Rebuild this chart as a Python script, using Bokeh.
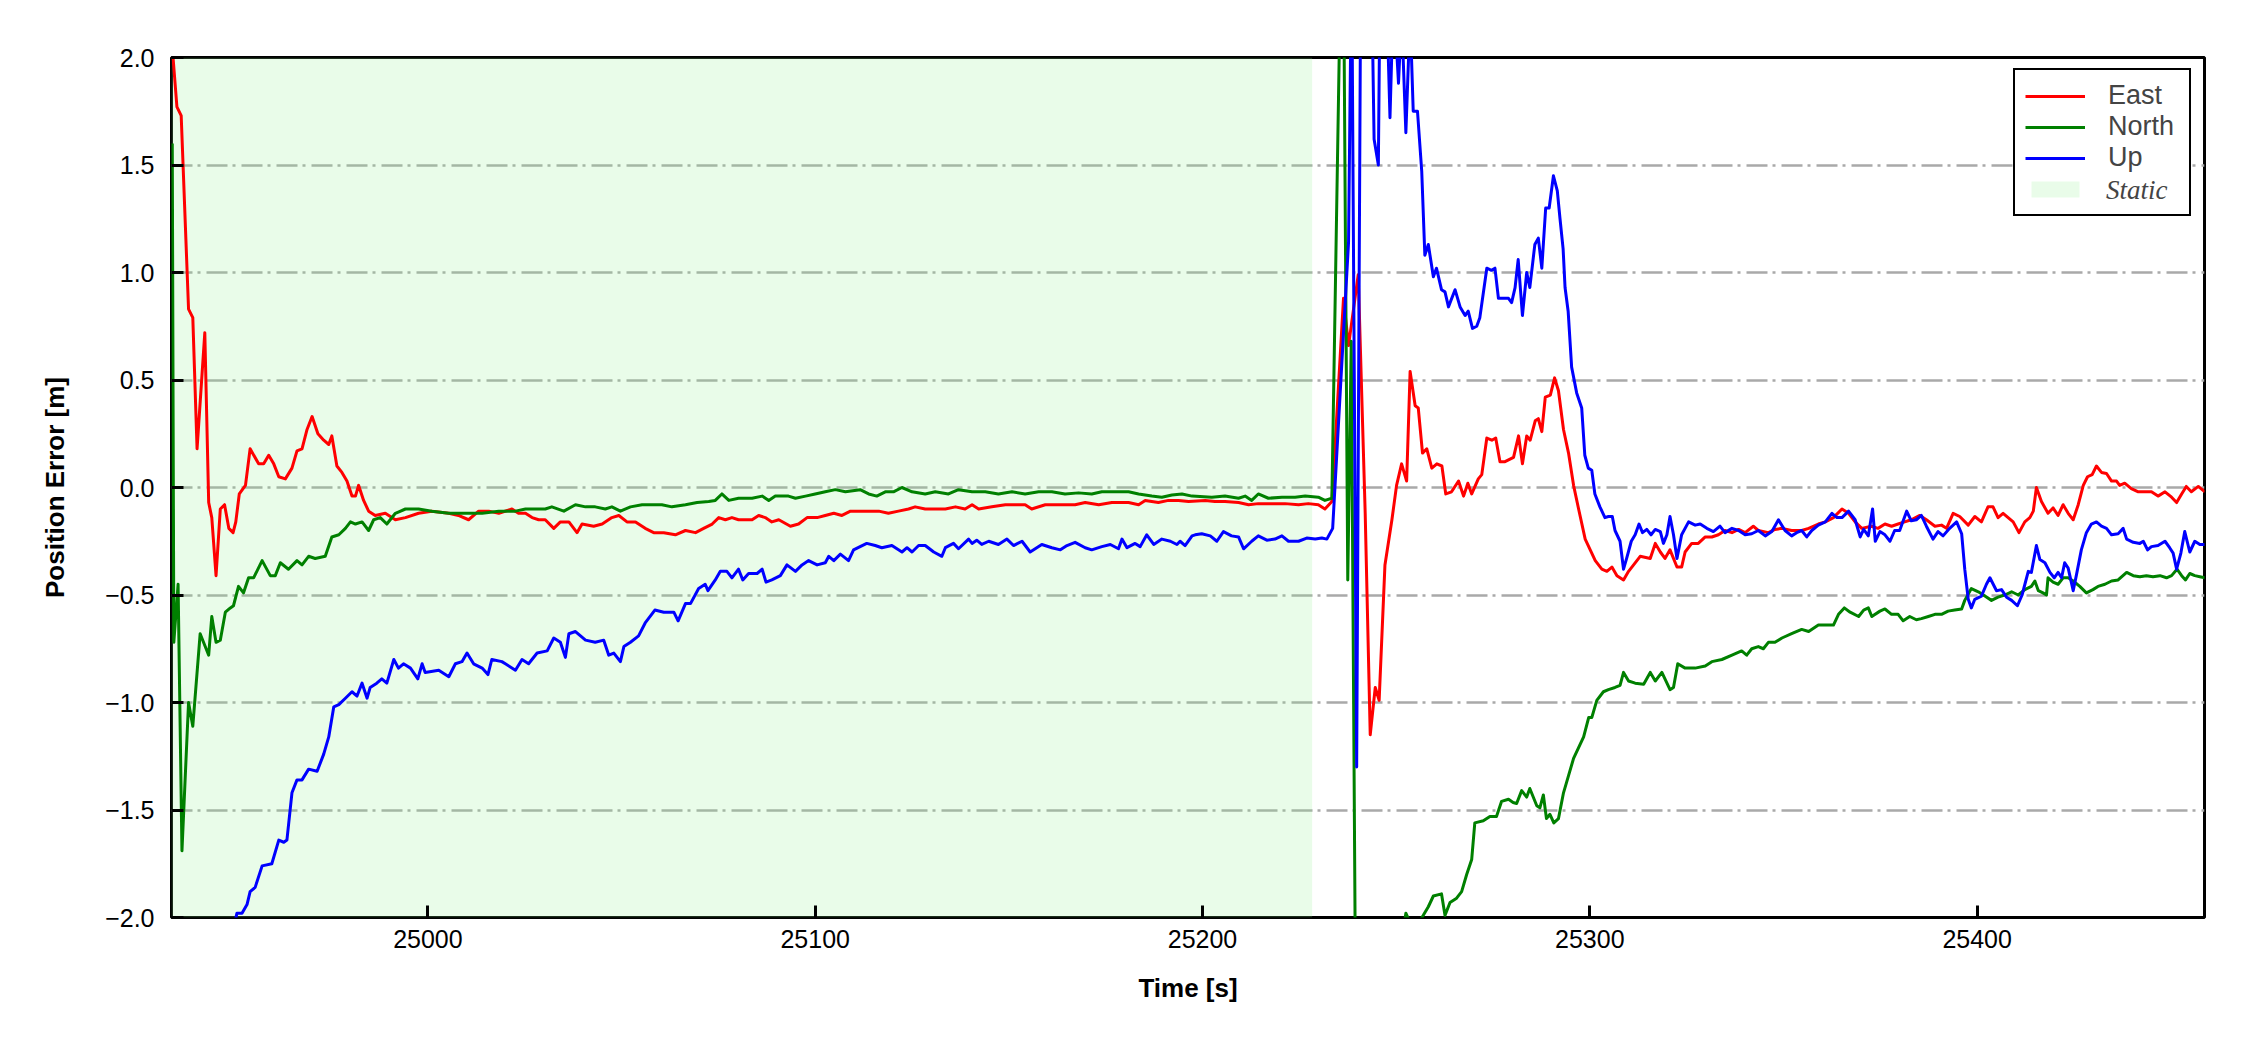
from bokeh.plotting import figure
from bokeh.models import (Range1d, FixedTicker, CustomJSTickFormatter, Legend,
                          LegendItem, BoxAnnotation)
from bokeh.embed import file_html
from bokeh.resources import INLINE

# ---------------- data (time [s], error [m]) ----------------
east_points = [
    (24934.2, 2.00), (24935.2, 1.77), (24936.3, 1.73), (24938.2, 0.83), (24939.3, 0.79),
    (24940.4, 0.18), (24942.4, 0.72), (24943.4, -0.07), (24944.2, -0.14), (24945.3, -0.41),
    (24946.4, -0.10), (24947.5, -0.08), (24948.6, -0.19), (24949.7, -0.21), (24950.4, -0.16),
    (24951.3, -0.03), (24952.9, 0.01), (24954.1, 0.18), (24956.3, 0.11), (24957.6, 0.11),
    (24958.9, 0.15), (24960.2, 0.11), (24961.5, 0.05), (24963.2, 0.04), (24964.9, 0.09),
    (24966.2, 0.17), (24967.5, 0.18), (24968.8, 0.27), (24970.1, 0.33), (24971.6, 0.25),
    (24973.1, 0.22), (24974.4, 0.20), (24975.2, 0.24), (24976.5, 0.10), (24977.8, 0.07),
    (24979.1, 0.03), (24980.4, -0.04), (24981.3, -0.04), (24982.1, 0.01), (24983.4, -0.06),
    (24984.7, -0.11), (24986.4, -0.13), (24989.0, -0.12), (24991.6, -0.15), (24994.2, -0.14),
    (24997.6, -0.12), (25001.0, -0.11), (25005.4, -0.12), (25007.9, -0.13), (25010.5, -0.15),
    (25013.1, -0.11), (25015.7, -0.11), (25018.3, -0.12), (25021.7, -0.10), (25023.4, -0.12),
    (25025.2, -0.12), (25026.9, -0.14), (25028.6, -0.15), (25030.3, -0.15), (25032.5, -0.19),
    (25034.2, -0.16), (25036.4, -0.16), (25038.5, -0.21), (25039.8, -0.17), (25042.8, -0.18),
    (25045.0, -0.17), (25047.5, -0.14), (25049.3, -0.13), (25051.4, -0.16), (25053.6, -0.16),
    (25056.1, -0.19), (25058.3, -0.21), (25060.9, -0.21), (25063.9, -0.22), (25066.5, -0.20),
    (25069.1, -0.21), (25071.2, -0.19), (25073.4, -0.17), (25075.1, -0.14), (25076.8, -0.15),
    (25078.5, -0.14), (25080.2, -0.15), (25083.7, -0.15), (25085.4, -0.13), (25087.1, -0.14),
    (25088.8, -0.16), (25090.6, -0.15), (25093.6, -0.18), (25095.7, -0.17), (25097.9, -0.14),
    (25100.5, -0.14), (25102.6, -0.13), (25104.8, -0.12), (25106.9, -0.13), (25109.1, -0.11),
    (25112.9, -0.11), (25116.4, -0.11), (25118.9, -0.12), (25121.5, -0.11), (25124.1, -0.10),
    (25125.8, -0.09), (25128.4, -0.10), (25131.0, -0.10), (25133.6, -0.10), (25136.2, -0.09),
    (25138.7, -0.10), (25140.5, -0.08), (25142.2, -0.10), (25145.6, -0.09), (25149.1, -0.08),
    (25150.8, -0.08), (25154.2, -0.08), (25155.9, -0.10), (25159.4, -0.08), (25163.7, -0.08),
    (25167.1, -0.08), (25169.7, -0.07), (25173.2, -0.08), (25176.6, -0.07), (25180.9, -0.07),
    (25183.5, -0.08), (25185.2, -0.06), (25188.6, -0.07), (25191.2, -0.06), (25193.8, -0.06),
    (25196.4, -0.065), (25200.7, -0.06), (25203.2, -0.065), (25205.8, -0.065), (25209.3, -0.07),
    (25211.9, -0.08), (25214.4, -0.075), (25217.9, -0.075), (25221.3, -0.075), (25224.8, -0.08),
    (25227.3, -0.075), (25229.9, -0.08), (25231.6, -0.10), (25233.4, -0.065), (25236.4, 0.88),
    (25237.7, 0.66), (25240.2, 0.99), (25242.0, -0.12), (25243.3, -1.15), (25244.6, -0.93),
    (25245.6, -0.99), (25247.1, -0.36), (25248.9, -0.15), (25250.1, 0.01), (25251.4, 0.11),
    (25252.7, 0.03), (25253.6, 0.54), (25254.9, 0.38), (25255.7, 0.37), (25256.8, 0.16),
    (25257.9, 0.18), (25259.2, 0.09), (25260.5, 0.11), (25261.8, 0.10), (25262.8, -0.03),
    (25264.3, -0.02), (25266.1, 0.03), (25267.4, -0.04), (25268.5, 0.02), (25269.5, -0.03),
    (25271.2, 0.04), (25272.1, 0.06), (25273.4, 0.23), (25274.7, 0.22), (25275.7, 0.23),
    (25276.8, 0.12), (25278.1, 0.12), (25280.3, 0.14), (25281.6, 0.24), (25282.6, 0.11),
    (25283.7, 0.24), (25284.6, 0.22), (25285.9, 0.31), (25286.7, 0.32), (25287.6, 0.26),
    (25288.5, 0.42), (25289.8, 0.43), (25290.9, 0.51), (25291.9, 0.45), (25293.2, 0.27),
    (25294.5, 0.16), (25295.8, 0.01), (25297.1, -0.10), (25298.8, -0.24), (25300.1, -0.29),
    (25301.4, -0.34), (25303.1, -0.38), (25304.4, -0.39), (25305.7, -0.37), (25307.0, -0.41),
    (25308.7, -0.43), (25310.0, -0.39), (25311.3, -0.36), (25313.0, -0.32), (25315.6, -0.33),
    (25316.9, -0.26), (25318.2, -0.30), (25319.4, -0.33), (25320.7, -0.29), (25322.5, -0.37),
    (25323.7, -0.37), (25324.6, -0.30), (25326.3, -0.26), (25328.0, -0.26), (25329.8, -0.23),
    (25331.5, -0.23), (25333.2, -0.22), (25334.9, -0.20), (25336.7, -0.21), (25338.4, -0.195),
    (25340.1, -0.21), (25342.2, -0.18), (25343.5, -0.20), (25346.1, -0.21), (25347.8, -0.195),
    (25349.6, -0.19), (25352.1, -0.20), (25354.7, -0.20), (25356.5, -0.19), (25359.0, -0.17),
    (25360.8, -0.16), (25362.9, -0.14), (25365.1, -0.10), (25366.8, -0.12), (25368.5, -0.16),
    (25370.2, -0.19), (25372.7, -0.18), (25374.4, -0.19), (25376.2, -0.17), (25377.9, -0.18),
    (25379.6, -0.17), (25381.3, -0.16), (25383.0, -0.15), (25385.2, -0.13), (25386.9, -0.15),
    (25389.1, -0.18), (25390.8, -0.175), (25392.1, -0.19), (25393.8, -0.12), (25395.5, -0.135),
    (25397.7, -0.175), (25399.4, -0.135), (25401.1, -0.16), (25402.8, -0.09), (25404.1, -0.09),
    (25405.4, -0.14), (25406.7, -0.12), (25408.0, -0.14), (25409.3, -0.16), (25410.8, -0.21),
    (25412.3, -0.16), (25413.6, -0.14), (25414.5, -0.11), (25415.3, 0.00), (25416.6, -0.065),
    (25418.3, -0.12), (25419.6, -0.095), (25420.9, -0.13), (25422.2, -0.08), (25423.5, -0.12),
    (25424.8, -0.15), (25426.1, -0.08), (25427.4, 0.01), (25428.5, 0.05), (25429.7, 0.06),
    (25430.8, 0.10), (25432.1, 0.07), (25433.4, 0.065), (25434.7, 0.03), (25436.0, 0.03),
    (25436.8, 0.01), (25438.1, 0.02), (25439.8, -0.005), (25441.6, -0.02), (25443.3, -0.02),
    (25445.0, -0.02), (25446.7, -0.04), (25448.5, -0.02), (25450.2, -0.045), (25451.5, -0.07),
    (25452.8, -0.03), (25454.0, 0.005), (25455.3, -0.02), (25457.1, 0.005), (25458.8, -0.02),
]

north_points = [
    (24934.0, 1.60), (24934.4, -0.72), (24935.5, -0.45), (24936.5, -1.69), (24938.2, -1.00),
    (24939.3, -1.11), (24941.2, -0.68), (24943.4, -0.78), (24944.2, -0.60), (24945.3, -0.72),
    (24946.4, -0.71), (24947.7, -0.58), (24949.0, -0.56), (24949.8, -0.55), (24951.1, -0.46),
    (24952.4, -0.49), (24953.7, -0.42), (24955.0, -0.42), (24957.2, -0.34), (24959.3, -0.41),
    (24960.6, -0.41), (24961.9, -0.35), (24964.0, -0.38), (24966.2, -0.34), (24967.5, -0.36),
    (24969.2, -0.32), (24970.9, -0.33), (24973.5, -0.32), (24975.2, -0.23), (24977.0, -0.22),
    (24978.7, -0.19), (24980.0, -0.16), (24981.3, -0.17), (24983.0, -0.16), (24984.7, -0.20),
    (24986.0, -0.15), (24987.7, -0.14), (24989.4, -0.17), (24991.6, -0.12), (24994.2, -0.10),
    (24997.6, -0.10), (25001.0, -0.11), (25005.4, -0.12), (25009.7, -0.12), (25014.0, -0.12),
    (25018.3, -0.11), (25022.6, -0.11), (25025.2, -0.10), (25028.6, -0.10), (25030.3, -0.10),
    (25032.0, -0.09), (25035.1, -0.11), (25038.1, -0.08), (25040.7, -0.09), (25043.2, -0.09),
    (25045.8, -0.10), (25047.5, -0.09), (25049.7, -0.11), (25052.3, -0.09), (25055.3, -0.08),
    (25058.3, -0.08), (25060.4, -0.08), (25063.0, -0.09), (25066.5, -0.08), (25069.5, -0.07),
    (25072.5, -0.065), (25074.2, -0.06), (25075.9, -0.03), (25077.7, -0.06), (25080.2, -0.05),
    (25083.7, -0.05), (25086.3, -0.04), (25088.0, -0.06), (25089.7, -0.04), (25093.1, -0.04),
    (25094.9, -0.05), (25097.5, -0.04), (25100.0, -0.03), (25102.6, -0.02), (25105.2, -0.01),
    (25107.8, -0.02), (25111.6, -0.01), (25113.8, -0.03), (25115.9, -0.04), (25118.1, -0.02),
    (25120.2, -0.02), (25122.4, 0.00), (25125.0, -0.02), (25128.4, -0.03), (25131.0, -0.02),
    (25134.4, -0.03), (25137.0, -0.01), (25140.5, -0.02), (25143.9, -0.02), (25147.3, -0.03),
    (25150.8, -0.02), (25154.2, -0.03), (25157.7, -0.02), (25161.1, -0.02), (25164.5, -0.03),
    (25168.0, -0.025), (25171.4, -0.03), (25174.0, -0.02), (25177.5, -0.02), (25180.9, -0.02),
    (25183.5, -0.03), (25186.9, -0.04), (25189.5, -0.045), (25192.1, -0.035), (25194.7, -0.03),
    (25197.3, -0.04), (25202.4, -0.045), (25205.8, -0.04), (25209.3, -0.05), (25211.0, -0.04),
    (25212.7, -0.06), (25214.4, -0.03), (25217.0, -0.05), (25220.5, -0.045), (25223.9, -0.045),
    (25226.5, -0.04), (25229.9, -0.045), (25231.6, -0.06), (25233.4, -0.05), (25236.2, 3.00),
    (25237.5, -0.43), (25238.4, 0.68), (25239.6, -2.60), (25245.0, -3.20), (25251.5, -2.10),
    (25252.5, -1.98), (25254.5, -2.06), (25257.0, -1.99), (25258.3, -1.95), (25259.6, -1.90),
    (25261.7, -1.89), (25262.6, -1.99), (25263.9, -1.93), (25265.6, -1.91), (25266.9, -1.88),
    (25268.2, -1.80), (25269.5, -1.73), (25270.3, -1.56), (25272.5, -1.55), (25274.2, -1.53),
    (25275.9, -1.53), (25277.2, -1.46), (25279.0, -1.45), (25280.2, -1.465), (25281.1, -1.47),
    (25282.4, -1.41), (25283.7, -1.44), (25284.5, -1.40), (25286.3, -1.48), (25287.1, -1.49),
    (25288.0, -1.43), (25288.8, -1.54), (25289.7, -1.52), (25290.7, -1.56), (25291.9, -1.54),
    (25293.2, -1.42), (25294.5, -1.34), (25295.8, -1.26), (25297.1, -1.21), (25298.4, -1.16),
    (25299.7, -1.07), (25300.5, -1.07), (25301.8, -0.99), (25303.5, -0.95), (25304.8, -0.94),
    (25306.5, -0.93), (25307.8, -0.92), (25308.7, -0.86), (25310.0, -0.90), (25311.7, -0.91),
    (25313.9, -0.915), (25315.6, -0.86), (25316.9, -0.90), (25318.6, -0.86), (25320.7, -0.94),
    (25321.6, -0.93), (25322.7, -0.82), (25324.6, -0.84), (25327.2, -0.84), (25329.8, -0.83),
    (25331.5, -0.81), (25334.1, -0.80), (25336.7, -0.78), (25339.2, -0.76), (25340.5, -0.78),
    (25341.8, -0.75), (25343.5, -0.74), (25344.8, -0.75), (25346.1, -0.72), (25347.8, -0.72),
    (25349.6, -0.70), (25352.1, -0.68), (25354.7, -0.66), (25356.5, -0.67), (25359.0, -0.64),
    (25361.6, -0.64), (25362.9, -0.64), (25364.2, -0.59), (25365.7, -0.56), (25367.2, -0.58),
    (25369.4, -0.60), (25370.7, -0.57), (25371.9, -0.56), (25372.8, -0.60), (25374.9, -0.575),
    (25376.2, -0.565), (25377.9, -0.59), (25379.6, -0.59), (25380.9, -0.62), (25382.6, -0.60),
    (25384.3, -0.615), (25385.6, -0.61), (25387.4, -0.60), (25389.1, -0.59), (25390.8, -0.59),
    (25392.5, -0.575), (25394.2, -0.57), (25396.0, -0.565), (25396.8, -0.525), (25398.5, -0.47),
    (25400.3, -0.485), (25402.0, -0.505), (25403.7, -0.525), (25405.4, -0.51), (25407.1, -0.50),
    (25408.9, -0.485), (25410.6, -0.50), (25412.3, -0.475), (25414.0, -0.46), (25414.9, -0.435),
    (25415.8, -0.48), (25417.0, -0.49), (25417.9, -0.50), (25418.3, -0.42), (25419.6, -0.44),
    (25420.9, -0.45), (25422.2, -0.42), (25423.5, -0.42), (25424.8, -0.435), (25426.5, -0.46),
    (25428.2, -0.49), (25429.9, -0.475), (25431.2, -0.46), (25433.0, -0.45), (25434.7, -0.435),
    (25436.4, -0.43), (25438.6, -0.395), (25440.3, -0.41), (25442.0, -0.415), (25443.7, -0.41),
    (25445.4, -0.415), (25447.2, -0.41), (25448.9, -0.42), (25450.2, -0.41), (25451.6, -0.38),
    (25452.8, -0.41), (25453.8, -0.43), (25454.9, -0.40), (25456.2, -0.41), (25457.5, -0.415),
    (25458.8, -0.42),
]

up_points = [
    (24934.0, -3.50), (24949.8, -2.05), (24950.7, -1.98), (24952.0, -1.98), (24953.3, -1.94),
    (24954.1, -1.88), (24955.4, -1.86), (24957.2, -1.76), (24959.7, -1.75), (24961.5, -1.64),
    (24962.8, -1.65), (24963.6, -1.64), (24964.9, -1.42), (24966.2, -1.36), (24967.5, -1.36),
    (24969.2, -1.31), (24971.4, -1.32), (24973.1, -1.24), (24974.4, -1.16), (24975.7, -1.02),
    (24977.0, -1.01), (24978.7, -0.98), (24980.4, -0.95), (24981.7, -0.97), (24983.0, -0.91),
    (24984.3, -0.98), (24985.1, -0.93), (24986.8, -0.91), (24988.1, -0.89), (24989.4, -0.91),
    (24991.2, -0.80), (24992.4, -0.84), (24993.7, -0.82), (24995.5, -0.84), (24997.4, -0.89),
    (24998.5, -0.82), (24999.3, -0.86), (25002.8, -0.85), (25005.4, -0.88), (25007.1, -0.82),
    (25008.8, -0.81), (25010.1, -0.77), (25011.8, -0.82), (25014.0, -0.84), (25015.5, -0.87),
    (25016.5, -0.80), (25019.1, -0.81), (25020.0, -0.82), (25022.6, -0.85), (25024.3, -0.80),
    (25026.0, -0.82), (25028.2, -0.77), (25030.8, -0.76), (25032.5, -0.70), (25034.2, -0.72),
    (25035.5, -0.79), (25036.4, -0.68), (25038.1, -0.67), (25040.7, -0.71), (25043.2, -0.72),
    (25045.4, -0.71), (25046.7, -0.78), (25048.0, -0.77), (25049.7, -0.81), (25050.6, -0.74),
    (25052.3, -0.72), (25054.4, -0.69), (25056.1, -0.63), (25058.6, -0.57), (25060.9, -0.58),
    (25063.5, -0.58), (25064.6, -0.62), (25066.5, -0.54), (25067.8, -0.54), (25069.9, -0.47),
    (25071.6, -0.45), (25072.3, -0.48), (25074.2, -0.43), (25075.5, -0.39), (25077.2, -0.39),
    (25078.5, -0.42), (25080.2, -0.38), (25081.3, -0.43), (25082.8, -0.40), (25085.0, -0.40),
    (25086.3, -0.38), (25087.3, -0.44), (25088.8, -0.43), (25091.0, -0.41), (25092.7, -0.36),
    (25094.9, -0.39), (25096.6, -0.36), (25098.3, -0.34), (25100.5, -0.36), (25102.6, -0.35),
    (25103.5, -0.32), (25104.8, -0.34), (25106.5, -0.31), (25108.6, -0.34), (25109.9, -0.29),
    (25113.3, -0.26), (25115.5, -0.27), (25117.2, -0.28), (25119.8, -0.27), (25122.4, -0.30),
    (25123.7, -0.28), (25125.0, -0.30), (25126.7, -0.27), (25128.4, -0.27), (25130.6, -0.30),
    (25132.7, -0.32), (25133.6, -0.28), (25135.7, -0.26), (25137.0, -0.285), (25139.6, -0.24),
    (25140.5, -0.26), (25141.7, -0.245), (25143.0, -0.265), (25144.8, -0.25), (25147.3, -0.265),
    (25149.5, -0.24), (25151.2, -0.27), (25153.4, -0.25), (25155.5, -0.30), (25158.5, -0.265),
    (25161.1, -0.28), (25163.3, -0.29), (25165.0, -0.27), (25167.1, -0.255), (25169.7, -0.28),
    (25171.4, -0.29), (25174.0, -0.275), (25176.2, -0.265), (25178.3, -0.285), (25179.2, -0.24),
    (25180.5, -0.28), (25182.6, -0.26), (25183.9, -0.275), (25185.6, -0.22), (25187.4, -0.265),
    (25189.5, -0.24), (25191.7, -0.25), (25193.4, -0.265), (25194.2, -0.25), (25195.5, -0.27),
    (25197.3, -0.225), (25198.1, -0.22), (25199.8, -0.215), (25202.0, -0.225), (25203.7, -0.25),
    (25205.4, -0.205), (25207.5, -0.225), (25209.3, -0.23), (25210.6, -0.285), (25212.7, -0.25),
    (25214.4, -0.225), (25216.6, -0.245), (25218.7, -0.24), (25220.5, -0.225), (25222.2, -0.25),
    (25224.8, -0.25), (25226.9, -0.235), (25229.1, -0.24), (25230.8, -0.235), (25232.1, -0.24),
    (25233.6, -0.19), (25237.7, 1.14), (25238.5, 2.50), (25239.8, -1.30), (25240.9, 2.60),
    (25242.5, 2.80), (25243.8, 2.20), (25244.3, 1.62), (25245.4, 1.50), (25245.8, 2.30),
    (25247.5, 2.30), (25248.4, 1.72), (25249.3, 2.30), (25250.6, 1.88), (25251.4, 2.20),
    (25252.5, 1.65), (25253.6, 2.20), (25254.4, 1.75), (25255.5, 1.75), (25256.6, 1.47),
    (25257.4, 1.08), (25258.3, 1.13), (25259.6, 0.98), (25260.4, 1.02), (25261.7, 0.92),
    (25262.6, 0.91), (25263.5, 0.84), (25265.2, 0.92), (25266.5, 0.84), (25267.8, 0.80),
    (25268.6, 0.82), (25269.7, 0.74), (25270.8, 0.75), (25271.6, 0.79), (25273.4, 1.02),
    (25274.6, 1.01), (25275.5, 1.02), (25276.4, 0.88), (25277.7, 0.88), (25279.0, 0.88),
    (25279.8, 0.86), (25280.7, 0.93), (25281.5, 1.06), (25282.6, 0.80), (25283.7, 1.00),
    (25284.5, 0.93), (25285.8, 1.13), (25286.7, 1.16), (25287.6, 1.02), (25288.6, 1.30),
    (25289.5, 1.30), (25290.6, 1.45), (25291.6, 1.38), (25292.3, 1.25), (25293.1, 1.11),
    (25293.6, 0.93), (25294.4, 0.82), (25295.3, 0.56), (25296.6, 0.44), (25297.9, 0.37),
    (25298.7, 0.15), (25299.6, 0.09), (25300.5, 0.08), (25301.3, -0.03), (25302.6, -0.09),
    (25303.9, -0.14), (25304.8, -0.135), (25305.8, -0.135), (25306.5, -0.20), (25307.8, -0.25),
    (25308.7, -0.38), (25309.5, -0.33), (25310.7, -0.25), (25311.7, -0.22), (25312.7, -0.17),
    (25313.6, -0.21), (25314.7, -0.195), (25315.8, -0.22), (25316.9, -0.195), (25318.2, -0.205),
    (25319.0, -0.26), (25319.9, -0.22), (25320.7, -0.135), (25321.6, -0.22), (25322.5, -0.33),
    (25323.7, -0.22), (25325.5, -0.16), (25327.2, -0.175), (25328.5, -0.17), (25330.2, -0.19),
    (25331.9, -0.205), (25333.6, -0.18), (25334.9, -0.21), (25336.7, -0.19), (25338.4, -0.20),
    (25340.1, -0.22), (25341.8, -0.215), (25343.5, -0.20), (25345.3, -0.225), (25347.0, -0.205),
    (25348.7, -0.15), (25350.4, -0.20), (25352.1, -0.225), (25353.4, -0.21), (25354.7, -0.20),
    (25356.0, -0.23), (25357.3, -0.20), (25359.0, -0.175), (25360.8, -0.16), (25362.5, -0.12),
    (25363.8, -0.14), (25365.1, -0.14), (25366.8, -0.11), (25368.5, -0.15), (25369.8, -0.23),
    (25370.7, -0.195), (25371.9, -0.225), (25373.0, -0.10), (25373.7, -0.25), (25374.9, -0.205),
    (25376.2, -0.22), (25377.5, -0.25), (25378.7, -0.20), (25380.0, -0.20), (25381.8, -0.11),
    (25383.0, -0.155), (25384.3, -0.15), (25385.6, -0.13), (25386.9, -0.18), (25388.6, -0.24),
    (25389.9, -0.205), (25391.2, -0.225), (25392.9, -0.19), (25394.7, -0.16), (25396.0, -0.215),
    (25396.8, -0.38), (25397.7, -0.52), (25398.5, -0.56), (25399.4, -0.52), (25401.1, -0.505),
    (25402.4, -0.45), (25403.3, -0.42), (25405.0, -0.48), (25406.3, -0.475), (25407.6, -0.51),
    (25408.9, -0.525), (25410.4, -0.55), (25411.6, -0.50), (25413.2, -0.39), (25414.0, -0.395),
    (25415.3, -0.27), (25416.2, -0.335), (25417.5, -0.35), (25418.8, -0.395), (25419.9, -0.42),
    (25420.9, -0.395), (25421.8, -0.42), (25422.6, -0.35), (25423.5, -0.375), (25424.8, -0.48),
    (25425.6, -0.41), (25426.9, -0.29), (25428.2, -0.21), (25429.5, -0.17), (25430.8, -0.16),
    (25432.1, -0.18), (25433.4, -0.19), (25434.7, -0.22), (25436.4, -0.215), (25437.7, -0.19),
    (25438.6, -0.24), (25440.3, -0.255), (25442.0, -0.26), (25442.9, -0.25), (25444.0, -0.29),
    (25445.0, -0.275), (25446.7, -0.27), (25448.5, -0.25), (25449.7, -0.28), (25450.6, -0.305),
    (25451.5, -0.38), (25452.6, -0.305), (25453.6, -0.205), (25454.9, -0.30), (25456.2, -0.25),
    (25457.5, -0.265), (25458.8, -0.265),
]

static_start = 24933.8
static_end = 25228.3
x_min, x_max = 24933.8, 25458.7
y_min, y_max = -2.0, 2.0
x_ticks = [25000, 25100, 25200, 25300, 25400]
y_ticks = [-2.0, -1.5, -1.0, -0.5, 0.0, 0.5, 1.0, 1.5, 2.0]
series_labels = ["East", "North", "Up"]
series_colors = ["#ff0000", "#008000", "#0000ff"]

# ---------------- figure ----------------
SANS = "Liberation Sans"
p = figure(width=2240, height=1036, output_backend="svg", toolbar_location=None,
           x_range=Range1d(x_min, x_max), y_range=Range1d(y_min, y_max),
           min_border_left=171, min_border_right=36, min_border_top=57,
           min_border_bottom=119, title=None)
p.background_fill_color = "white"
p.border_fill_color = "white"
p.outline_line_color = "black"
p.outline_line_width = 3

# static shading
p.add_layout(BoxAnnotation(left=static_start, right=static_end, fill_color="#90ee90",
                           fill_alpha=0.2, line_color=None, level="underlay"))

renderers = []
for pts, col in zip([east_points, north_points, up_points], series_colors):
    xs = [a for a, b in pts]
    ys = [b for a, b in pts]
    r = p.line(xs, ys, line_color=col, line_width=3, line_join="round")
    renderers.append(r)

# off-range glyphs used only for legend entries
r_static = p.quad(left=[0], right=[1], bottom=[0], top=[1], fill_color="#90ee90",
                  fill_alpha=0.2, line_color=None)
r_blank = p.line([0, 1], [0, 0], line_alpha=0)

# grid
p.xgrid.visible = False
p.ygrid.grid_line_color = "#a9a9a9"
p.ygrid.grid_line_width = 2.5
p.ygrid.grid_line_dash = "21 5 3 6"

# axes
for ax in (p.xaxis[0], p.yaxis[0]):
    ax.axis_line_color = None
    ax.major_tick_in = 12
    ax.major_tick_out = 0
    ax.major_tick_line_width = 3
    ax.major_tick_line_color = "black"
    ax.minor_tick_line_color = None
    ax.major_label_text_font = SANS
    ax.major_label_text_font_size = "25px"
    ax.major_label_text_color = "black"
    ax.axis_label_text_font = SANS
    ax.axis_label_text_font_style = "bold"
    ax.axis_label_text_font_size = "26px"
    ax.axis_label_text_color = "black"

p.xaxis.ticker = FixedTicker(ticks=x_ticks)
p.xaxis.formatter = CustomJSTickFormatter(code="return tick.toFixed(0);")
p.xaxis.axis_label = "Time [s]"
p.xaxis.major_label_standoff = 12
p.xaxis.axis_label_standoff = 22

p.yaxis.ticker = FixedTicker(ticks=y_ticks)
p.yaxis.formatter = CustomJSTickFormatter(code="return tick.toFixed(1).replace('-', '\u2212');")
p.yaxis.axis_label = "Position Error [m]"
p.yaxis.major_label_standoff = 17
p.yaxis.axis_label_standoff = 32

# legend
common = dict(location=(1842, 701), padding=10, spacing=0, margin=0,
              glyph_width=60, glyph_height=20, label_standoff=23,
              label_height=31, label_width=71, label_text_font_size="27px")
leg1 = Legend(items=[LegendItem(label=series_labels[i], renderers=[renderers[i]]) for i in range(3)]
          + [LegendItem(label="  ", renderers=[r_static])],
          border_line_color="black", border_line_width=2.5, border_line_alpha=1,
          background_fill_color="white", background_fill_alpha=1,
          label_text_font=SANS, **common)
p.add_layout(leg1)
leg2 = Legend(items=[LegendItem(label="Static", renderers=[r_blank])],
              border_line_alpha=0, background_fill_alpha=0,
              label_text_font="Liberation Serif", label_text_font_style="italic", **common)
p.add_layout(leg2)

open("out.html", "w").write(file_html(p, INLINE))
